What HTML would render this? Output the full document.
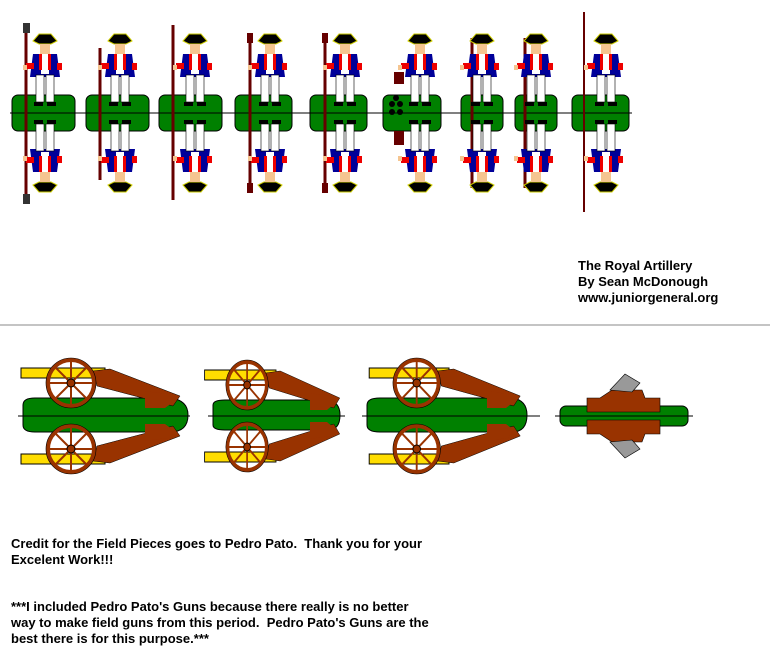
<!DOCTYPE html>
<html><head><meta charset="utf-8"><style>
body{margin:0;background:#fff;width:770px;height:650px;overflow:hidden;position:relative;font-family:"Liberation Sans",Arial,sans-serif}
.t{position:absolute;font-weight:bold;font-size:13px;line-height:16px;color:#000;white-space:nowrap}
</style></head><body>
<svg width="770" height="650" style="position:absolute;left:0;top:0">
<defs>
<g id="s">
  <path d="M-12,-66 L-6,-73 L6,-73 L12,-66 L6,-63 L-6,-63 Z" fill="#000" stroke="#cc0" stroke-width="1"/>
  <rect x="-5" y="-63" width="10" height="10" fill="#f5c590"/>
  <path d="M-12,-53 L12,-53 L15,-30 L-15,-30 Z" fill="#000099"/>
  <rect x="-4" y="-53" width="8" height="20" fill="#fff"/>
  <rect x="-6" y="-53" width="3" height="16" fill="#e00"/>
  <rect x="3" y="-53" width="3" height="16" fill="#e00"/>
  <rect x="-19" y="-44" width="8" height="6" fill="#e00"/>
  <rect x="12" y="-44" width="5" height="7" fill="#e00"/>
  <rect x="-22" y="-42" width="4" height="5" fill="#f5c590"/>
  <rect x="-9" y="-32" width="8" height="27" fill="#fff" stroke="#000" stroke-width="0.6"/>
  <rect x="1" y="-32" width="8" height="27" fill="#fff" stroke="#000" stroke-width="0.6"/>
  <rect x="-11" y="-5" width="9" height="4" fill="#000"/>
  <rect x="2" y="-5" width="9" height="4" fill="#000"/>
</g>
<g id="ch">
  <rect x="-84" y="-48" width="84" height="10" fill="#ffdd00" stroke="#000" stroke-width="1"/>
  <path d="M-12,-45 L5,-47 L75,-20 L68,-10 L-8,-30 Z" fill="#993300" stroke="#000" stroke-width="0.5"/>
  <path d="M40,-25 L62,-22 L68,-14 L60,-8 L40,-8 Z" fill="#993300"/>
  <circle cx="-34" cy="-33" r="23" fill="none" stroke="#993300" stroke-width="4"/>
  <circle cx="-34" cy="-33" r="25" fill="none" stroke="#000" stroke-width="0.6"/>
  <g stroke="#993300" stroke-width="2">
    <line x1="-57" y1="-33" x2="-11" y2="-33"/><line x1="-34" y1="-56" x2="-34" y2="-10"/>
    <line x1="-50" y1="-49" x2="-18" y2="-17"/><line x1="-50" y1="-17" x2="-18" y2="-49"/>
  </g>
  <circle cx="-34" cy="-33" r="4" fill="#993300" stroke="#000" stroke-width="1"/>
</g>
</defs>
<g fill="#008000" stroke="#000" stroke-width="1">
  <rect x="12" y="95" width="63" height="36" rx="6"/>
  <rect x="86" y="95" width="63" height="36" rx="6"/>
  <rect x="159" y="95" width="63" height="36" rx="6"/>
  <rect x="235" y="95" width="57" height="36" rx="6"/>
  <rect x="310" y="95" width="57" height="36" rx="6"/>
  <rect x="383" y="95" width="58" height="36" rx="6"/>
  <rect x="461" y="95" width="42" height="36" rx="6"/>
  <rect x="515" y="95" width="42" height="36" rx="6"/>
  <rect x="572" y="95" width="57" height="36" rx="6"/>
</g>
<line x1="10" y1="113" x2="632" y2="113" stroke="#000" stroke-width="1"/>
<g stroke="#660000" stroke-width="3">
  <line x1="26" y1="28" x2="26" y2="198"/>
  <line x1="100" y1="48" x2="100" y2="180"/>
  <line x1="173" y1="25" x2="173" y2="200"/>
  <line x1="250" y1="35" x2="250" y2="190"/>
  <line x1="325" y1="35" x2="325" y2="190"/>
  <line x1="472" y1="38" x2="472" y2="188"/>
  <line x1="525" y1="38" x2="525" y2="188"/>
  <line x1="584" y1="12" x2="584" y2="212" stroke-width="2"/>
</g>
<rect x="23" y="23" width="7" height="10" fill="#333"/><rect x="23" y="194" width="7" height="10" fill="#333"/>
<rect x="247" y="33" width="6" height="10" fill="#600"/><rect x="247" y="183" width="6" height="10" fill="#600"/>
<rect x="322" y="33" width="6" height="10" fill="#600"/><rect x="322" y="183" width="6" height="10" fill="#600"/>
<g fill="#000"><circle cx="392" cy="104" r="3"/><circle cx="400" cy="104" r="3"/><circle cx="396" cy="98" r="3"/><circle cx="392" cy="112" r="3"/><circle cx="400" cy="112" r="3"/></g>
<rect x="394" y="72" width="10" height="12" fill="#660000"/><rect x="394" y="131" width="10" height="14" fill="#660000"/>
<g>
  <use href="#s" transform="translate(45,107)"/><use href="#s" transform="translate(45,119) scale(1,-1)"/>
  <use href="#s" transform="translate(120,107)"/><use href="#s" transform="translate(120,119) scale(1,-1)"/>
  <use href="#s" transform="translate(195,107)"/><use href="#s" transform="translate(195,119) scale(1,-1)"/>
  <use href="#s" transform="translate(270,107)"/><use href="#s" transform="translate(270,119) scale(1,-1)"/>
  <use href="#s" transform="translate(345,107)"/><use href="#s" transform="translate(345,119) scale(1,-1)"/>
  <use href="#s" transform="translate(420,107)"/><use href="#s" transform="translate(420,119) scale(1,-1)"/>
  <use href="#s" transform="translate(482,107)"/><use href="#s" transform="translate(482,119) scale(1,-1)"/>
  <use href="#s" transform="translate(536,107)"/><use href="#s" transform="translate(536,119) scale(1,-1)"/>
  <use href="#s" transform="translate(606,107)"/><use href="#s" transform="translate(606,119) scale(1,-1)"/>
</g>
<line x1="0" y1="325" x2="770" y2="325" stroke="#888" stroke-width="1"/>
<g fill="#008000" stroke="#000" stroke-width="1">
  <path d="M23,405 Q23,398 35,398 L170,398 Q188,400 188,415 Q188,432 170,432 L35,432 Q23,432 23,425 Z"/>
  <path d="M213,405 Q213,400 225,400 L328,400 Q340,402 340,415 Q340,430 328,430 L225,430 Q213,430 213,425 Z"/>
  <path d="M367,405 Q367,398 380,398 L512,398 Q527,400 527,415 Q527,432 512,432 L380,432 Q367,432 367,425 Z"/>
  <rect x="560" y="406" width="128" height="20" rx="6"/>
</g>
<line x1="18" y1="416" x2="190" y2="416" stroke="#000"/>
<line x1="208" y1="416" x2="345" y2="416" stroke="#000"/>
<line x1="362" y1="416" x2="540" y2="416" stroke="#000"/>
<line x1="555" y1="416" x2="693" y2="416" stroke="#000"/>
<use href="#ch" transform="translate(105,416)"/><use href="#ch" transform="translate(105,416) scale(1,-1)"/>
<use href="#ch" transform="translate(276,418) scale(0.85,1)"/><use href="#ch" transform="translate(276,414) scale(0.85,-1)"/>
<use href="#ch" transform="translate(449,416) scale(0.95,1)"/><use href="#ch" transform="translate(449,416) scale(0.95,-1)"/>
<g stroke="#000" stroke-width="0.6">
  <path d="M612,390 L642,390 L645,398 L660,398 L660,412 L587,412 L587,398 L600,398 Z" fill="#993300"/>
  <path d="M612,442 L642,442 L645,434 L660,434 L660,420 L587,420 L587,434 L600,434 Z" fill="#993300"/>
  <path d="M610,390 L625,374 L640,383 L632,392 Z" fill="#999"/>
  <path d="M610,442 L625,458 L640,449 L632,440 Z" fill="#999"/>
</g>
</svg>
<div class="t" style="left:578px;top:258px">The Royal Artillery<br>By Sean McDonough<br>www.juniorgeneral.org</div>
<div class="t" style="left:11px;top:536px">Credit for the Field Pieces goes to Pedro Pato.&nbsp; Thank you for your<br>Excelent Work!!!</div>
<div class="t" style="left:11px;top:599px">***I included Pedro Pato's Guns because there really is no better<br>way to make field guns from this period.&nbsp; Pedro Pato's Guns are the<br>best there is for this purpose.***</div>
</body></html>
